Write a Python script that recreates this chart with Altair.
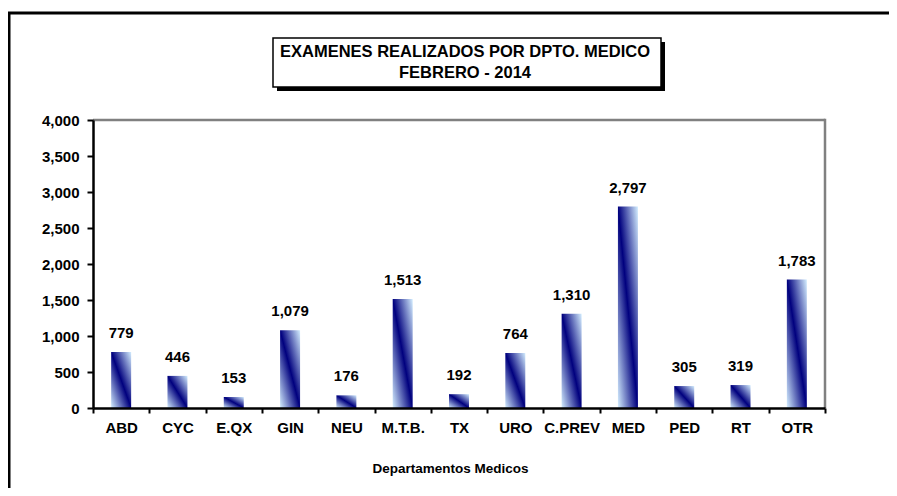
import altair as alt
import pandas as pd

# ---- data ----
categories = ["ABD", "CYC", "E.QX", "GIN", "NEU", "M.T.B.", "TX", "URO",
              "C.PREV", "MED", "PED", "RT", "OTR"]
values = [779, 446, 153, 1079, 176, 1513, 192, 764, 1310, 2797, 305, 319, 1783]
y_ticks = [0, 500, 1000, 1500, 2000, 2500, 3000, 3500, 4000]
title_lines = ["EXAMENES REALIZADOS  POR DPTO. MEDICO", "FEBRERO - 2014"]
x_title = "Departamentos Medicos"

FONT = "Liberation Sans"
W, H = 732, 288

df = pd.DataFrame({"dept": categories, "n": values})
one = pd.DataFrame({"k": [0]})

grad = alt.Gradient(
    gradient="linear", x1=0, y1=1, x2=1, y2=0,
    stops=[alt.GradientStop(offset=0, color="#D4EEFF"),
           alt.GradientStop(offset=0.5, color="#00007E"),
           alt.GradientStop(offset=1, color="#D4EEFF")],
)

x_axis = alt.Axis(title=x_title, labelAngle=0, tickBand="extent",
                  titleX=357, titleY=60, titleBaseline="middle",
                  titleAnchor="start", titleAlign="center", zindex=2)
y_axis = alt.Axis(values=y_ticks, labelExpr="format(datum.value, ',')",
                  labelOverlap=False, title=None, grid=False, zindex=2)

x_enc = alt.X("dept:N", sort=categories,
              scale=alt.Scale(paddingInner=0, paddingOuter=0), axis=x_axis)
y_enc = alt.Y("n:Q", scale=alt.Scale(domain=[0, 4000], nice=False), axis=y_axis)

bars = alt.Chart(df).mark_bar(size=20, color=grad).encode(x=x_enc, y=y_enc)

labels = alt.Chart(df).mark_text(
    dy=-14, baseline="alphabetic", font=FONT, fontWeight="bold", fontSize=15, color="black"
).encode(x=x_enc, y=y_enc, text=alt.Text("n:Q", format=","))

# decorations
border_top = alt.Chart(one).mark_rule(color="#808080", strokeWidth=2.5).encode(
    x=alt.value(0), x2=alt.value(W), y=alt.value(0))
border_right = alt.Chart(one).mark_rule(color="#808080", strokeWidth=2.5).encode(
    x=alt.value(W), y=alt.value(-1.2), y2=alt.value(H))

outer_top = alt.Chart(one).mark_rule(color="black", strokeWidth=3).encode(
    x=alt.value(-85.5), x2=alt.value(W + 90), y=alt.value(-107))
outer_left = alt.Chart(one).mark_rule(color="black", strokeWidth=3).encode(
    x=alt.value(-84), y=alt.value(-107), y2=alt.value(H + 100))

shadow = alt.Chart(one).mark_rect(color="black").encode(
    x=alt.value(184), x2=alt.value(572), y=alt.value(-78), y2=alt.value(-29))
box = alt.Chart(one).mark_rect(fill="white", stroke="black", strokeWidth=1.5).encode(
    x=alt.value(180), x2=alt.value(568), y=alt.value(-82), y2=alt.value(-33))
t1 = alt.Chart(one).mark_text(font=FONT, fontWeight="bold", fontSize=16.5, color="black",
                              baseline="middle", align="center").encode(
    x=alt.value(372), y=alt.value(-68), text=alt.value(title_lines[0]))
t2 = alt.Chart(one).mark_text(font=FONT, fontWeight="bold", fontSize=16.5, color="black",
                              baseline="middle", align="center").encode(
    x=alt.value(372), y=alt.value(-47.5), text=alt.value(title_lines[1]))

chart = alt.layer(
    outer_top, outer_left, shadow, box, t1, t2, bars, labels, border_top, border_right
).properties(
    width=W, height=H,
    autosize=alt.AutoSizeParams(type="none"),
    padding={"left": 85, "top": 112, "right": 64, "bottom": 80},
).configure_view(
    stroke="transparent"
).configure_axis(
    domainColor="black", domainWidth=2.5, tickColor="black", tickWidth=2,
    labelFont=FONT, labelFontWeight="bold", labelFontSize=15, labelColor="black",
    titleFont=FONT, titleFontWeight="bold", titleFontSize=13.5, titleColor="black",
).configure_axisY(
    tickSize=6, labelPadding=8,
).configure_axisX(
    tickSize=5, labelPadding=7,
)

chart.save("out.html", embed_options={"renderer": "svg", "actions": False})
